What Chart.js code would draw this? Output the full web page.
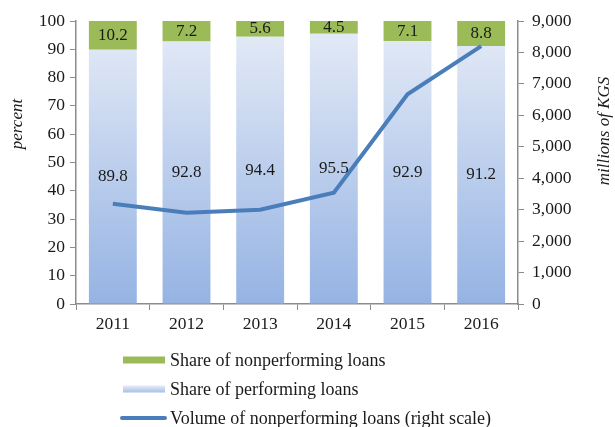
<!DOCTYPE html>
<html>
<head>
<meta charset="utf-8">
<script src="https://cdn.jsdelivr.net/npm/chart.js@4/dist/chart.umd.min.js"></script>
<style>
  html, body { margin: 0; padding: 0; background: #fff; }
  #wrap { width: 615px; height: 427px; position: relative; }
</style>
</head>
<body>
<div id="wrap"><canvas id="npl"></canvas></div>
<script>
const years = ["2011", "2012", "2013", "2014", "2015", "2016"];
const performingShare = [89.8, 92.8, 94.4, 95.5, 92.9, 91.2];
const nonperformingShare = [10.2, 7.2, 5.6, 4.5, 7.1, 8.8];
const nplVolume = [3190, 2900, 3000, 3540, 6670, 8200];
const legendLabels = [
  "Share of nonperforming loans",
  "Share of performing loans",
  "Volume of nonperforming loans (right scale)",
];

const FONT = "'Liberation Serif', 'Times New Roman', serif";
const GREEN = "#9bbb59";
const LINE = "#4a7ebb";
const AXIS = "#8c8c8c";
const TEXT = "#1a1a1a";

function performingFill(ctx) {
  const area = ctx.chart.chartArea;
  if (!area) return "#c4d3ef";
  const g = ctx.chart.ctx.createLinearGradient(0, area.top, 0, area.bottom);
  g.addColorStop(0, "#e6ecf7");
  g.addColorStop(1, "#95b3e3");
  return g;
}

// value labels inside the bar segments
const barLabels = {
  id: "barLabels",
  afterDatasetsDraw(chart) {
    const c = chart.ctx;
    c.save();
    c.font = "17px " + FONT;
    c.fillStyle = TEXT;
    c.textAlign = "center";
    c.textBaseline = "middle";
    [0, 1].forEach((di) => {
      const meta = chart.getDatasetMeta(di);
      const vals = chart.data.datasets[di].data;
      meta.data.forEach((bar, i) => {
        const y = (bar.y + bar.base) / 2;
        c.fillText(vals[i].toFixed(1), bar.x, y);
      });
    });
    c.restore();
  },
};

// rotated axis titles (both read bottom to top) and the stacked legend
const extras = {
  id: "extras",
  afterDraw(chart) {
    const c = chart.ctx;
    c.save();
    c.font = "italic 17px " + FONT;
    c.fillStyle = TEXT;
    c.textAlign = "center";
    c.textBaseline = "middle";
    c.translate(18, 124);
    c.rotate(-Math.PI / 2);
    c.fillText("percent", 0, 0);
    c.restore();

    c.save();
    c.font = "italic 17px " + FONT;
    c.fillStyle = TEXT;
    c.textAlign = "center";
    c.textBaseline = "middle";
    c.translate(605, 131);
    c.rotate(-Math.PI / 2);
    c.fillText("millions of KGS", 0, 0);
    c.restore();

    // legend
    c.save();
    c.font = "18px " + FONT;
    c.textBaseline = "middle";
    const rows = [360, 389, 418];
    c.fillStyle = GREEN;
    c.fillRect(123, rows[0] - 3.5, 42, 7);
    const g = c.createLinearGradient(0, rows[1] - 3.5, 0, rows[1] + 3.5);
    g.addColorStop(0, "#e6ecf7");
    g.addColorStop(1, "#a7bfe8");
    c.fillStyle = g;
    c.fillRect(123, rows[1] - 3.5, 42, 7);
    c.strokeStyle = LINE;
    c.lineWidth = 4;
    c.lineCap = "round";
    c.beginPath();
    c.moveTo(122, rows[2]);
    c.lineTo(165, rows[2]);
    c.stroke();
    c.fillStyle = TEXT;
    legendLabels.forEach((t, i) => c.fillText(t, 170, rows[i] + 1));
    c.restore();
  },
};

new Chart(document.getElementById("npl"), {
  data: {
    labels: years,
    datasets: [
      {
        type: "bar",
        label: legendLabels[1],
        data: performingShare,
        backgroundColor: performingFill,
        yAxisID: "y",
        stack: "s",
        order: 1,
        categoryPercentage: 1,
        barPercentage: 0.65,
      },
      {
        type: "bar",
        label: legendLabels[0],
        data: nonperformingShare,
        backgroundColor: GREEN,
        yAxisID: "y",
        stack: "s",
        order: 1,
        categoryPercentage: 1,
        barPercentage: 0.65,
      },
      {
        type: "line",
        label: legendLabels[2],
        data: nplVolume,
        borderColor: LINE,
        borderWidth: 4,
        pointRadius: 0,
        tension: 0,
        yAxisID: "y1",
        order: 0,
      },
    ],
  },
  options: {
    responsive: true,
    maintainAspectRatio: false,
    animation: false,
    layout: { padding: { top: 21, bottom: 93, left: 0, right: 0 } },
    plugins: { legend: { display: false }, tooltip: { enabled: false } },
    scales: {
      x: {
        stacked: true,
        offset: true,
        grid: {
          offset: true,
          drawOnChartArea: false,
          color: AXIS,
          tickLength: 6,
        },
        border: { color: AXIS, width: 1.5 },
        ticks: { color: TEXT, font: { family: FONT, size: 17.5 }, padding: 4 },
        afterFit: (s) => { s.height = 30; },
      },
      y: {
        position: "left",
        stacked: true,
        min: 0,
        max: 100,
        ticks: {
          stepSize: 10,
          color: TEXT,
          font: { family: FONT, size: 17.5 },
          padding: 5,
        },
        grid: { drawOnChartArea: false, color: AXIS, tickLength: 6 },
        border: { color: AXIS, width: 1.5 },
        afterFit: (s) => { s.width = 76; },
      },
      y1: {
        position: "right",
        min: 0,
        max: 9000,
        ticks: {
          stepSize: 1000,
          color: TEXT,
          font: { family: FONT, size: 17.5 },
          padding: 8,
          callback: (v) => v.toLocaleString("en-US"),
        },
        grid: { drawOnChartArea: false, color: AXIS, tickLength: 6 },
        border: { color: AXIS, width: 1.5 },
        afterFit: (s) => { s.width = 97; },
      },
    },
  },
  plugins: [barLabels, extras],
});
</script>
</body>
</html>
